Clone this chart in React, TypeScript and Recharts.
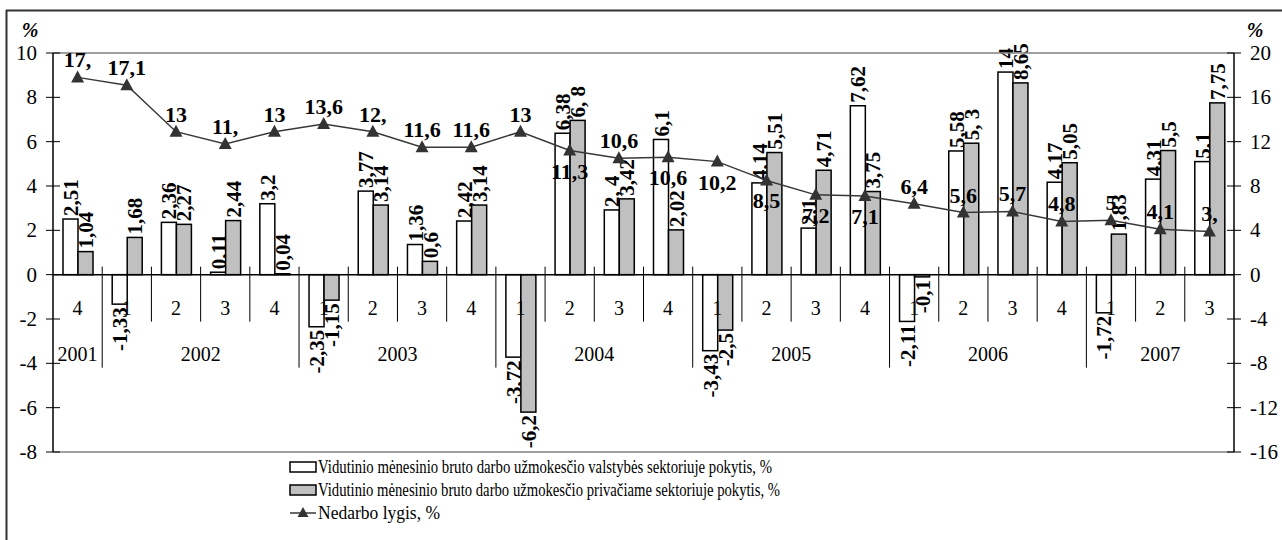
import React from 'react'
import { Bar, ComposedChart, Line, ReferenceLine, XAxis, YAxis } from 'recharts'

// quarters, "year-quarter"
const categories = [
  '2001-4',
  '2002-1', '2002-2', '2002-3', '2002-4',
  '2003-1', '2003-2', '2003-3', '2003-4',
  '2004-1', '2004-2', '2004-3', '2004-4',
  '2005-1', '2005-2', '2005-3', '2005-4',
  '2006-1', '2006-2', '2006-3', '2006-4',
  '2007-1', '2007-2', '2007-3',
]

const publicVals = [2.51, -1.33, 2.36, 0.11, 3.2, -2.35, 3.77, 1.36, 2.42, -3.72, 6.38, 2.92, 6.1, -3.43, 4.14, 2.1, 7.62, -2.11, 5.58, 9.14, 4.17, -1.72, 4.31, 5.1]
const publicLabels = ['2,51', '-1,33', '2,36', '0,11', '3,2', '-2,35', '3,77', '1,36', '2,42', '-3,72', '6,38', '2, 4', '6,1', '-3,43', '4,14', '2,1', '7,62', '-2,11', '5,58', '14', '4,17', '-1,72', '4,31', '5,1']

const privateVals = [1.04, 1.68, 2.27, 2.44, 0.04, -1.15, 3.14, 0.6, 3.14, -6.2, 6.96, 3.42, 2.02, -2.5, 5.51, 4.71, 3.75, -0.1, 5.93, 8.65, 5.05, 1.83, 5.6, 7.75]
const privateLabels = ['1,04', '1,68', '2,27', '2,44', '0,04', '-1,15', '3,14', '0,6', '3,14', '-6,2', '6, 8', '3,42', '2,02', '-2,5', '5,51', '4,71', '3,75', '-0,1', '5, 3', '8,65', '5,05', '1,83', '5,5', '7,75']

const unemploymentVals = [17.8, 17.1, 12.9, 11.8, 12.9, 13.6, 12.9, 11.5, 11.5, 12.9, 11.2, 10.5, 10.6, 10.2, 8.5, 7.2, 7.1, 6.4, 5.6, 5.7, 4.8, 4.9, 4.1, 3.9]
const unemploymentLabels = ['17,', '17,1', '13', '11,', '13', '13,6', '12,', '11,6', '11,6', '13', '11,3', '10,6', '10,6', '10,2', '8,5', '7,2', '7,1', '6,4', '5,6', '5,7', '4,8', '5', '4,1', '3,']
// labels drawn under the marker instead of above
const labelsBelow = ['2004-2', '2004-4', '2005-1', '2005-2', '2005-3', '2005-4']

const leftTicks = [-8, -6, -4, -2, 0, 2, 4, 6, 8, 10]
const rightTicks = [-16, -12, -8, -4, 0, 4, 8, 12, 16, 20]

const legendNames = [
  'Vidutinio mėnesinio bruto darbo užmokesčio valstybės sektoriuje pokytis, %',
  'Vidutinio mėnesinio bruto darbo užmokesčio privačiame sektoriuje pokytis, %',
  'Nedarbo lygis, %',
]

const data = categories.map((period, i) => ({
  period,
  pub: publicVals[i],
  priv: privateVals[i],
  unemp: unemploymentVals[i],
}))

const W = 1282
const H = 540
const LEFT_W = 53
const RIGHT_W = 48
const X_AXIS_H = 30
const PLOT_TOP = 53
const PLOT_BOTTOM = 452
const PLOT_LEFT = LEFT_W
const PLOT_RIGHT = W - RIGHT_W
const BAND = (PLOT_RIGHT - PLOT_LEFT) / categories.length
const Y_ZERO = PLOT_TOP + (PLOT_BOTTOM - PLOT_TOP) * (leftTicks[leftTicks.length - 1] / (leftTicks[leftTicks.length - 1] - leftTicks[0]))

const SERIF = '"Liberation Serif", "DejaVu Serif", serif'
const GRAY = '#c0c0c0'
const LINE = '#383838'

const serif = (size: number, bold = false): React.CSSProperties => ({
  fontFamily: SERIF,
  fontSize: size,
  fontWeight: bold ? 'bold' : 'normal',
})

function PeriodTick(props: any) {
  const { x, payload } = props
  const period = String(payload.value)
  const i = categories.indexOf(period)
  const [year, q] = period.split('-')
  const firstOfYear = i === 0 || q === '1'
  const count = categories.filter((c) => c.startsWith(year)).length
  const sepX = x - BAND / 2
  return (
    <g>
      {i > 0 && (
        <line x1={sepX} x2={sepX} y1={Y_ZERO - 8} y2={Y_ZERO + (q === '1' ? 93 : 47)} stroke="#000" strokeWidth={1} />
      )}
      <text x={x} y={Y_ZERO + 40} textAnchor="middle" style={serif(20)} fill="#000">{q}</text>
      {firstOfYear && (
        <text x={x + ((count - 1) / 2) * BAND} y={Y_ZERO + 86} textAnchor="middle" style={serif(20)} fill="#000">{year}</text>
      )}
    </g>
  )
}

function LeftTick(props: any) {
  const { y, payload } = props
  return (
    <g>
      <line x1={PLOT_LEFT - 7} x2={PLOT_LEFT + 7} y1={y} y2={y} stroke="#000" />
      <text x={PLOT_LEFT - 16} y={y + 7} textAnchor="end" style={serif(21)} fill="#000">{payload.value}</text>
    </g>
  )
}

function RightTick(props: any) {
  const { y, payload } = props
  return (
    <g>
      <line x1={PLOT_RIGHT - 7} x2={PLOT_RIGHT + 7} y1={y} y2={y} stroke="#000" />
      <text x={PLOT_RIGHT + 16} y={y + 7} textAnchor="start" style={serif(21)} fill="#000">{payload.value}</text>
    </g>
  )
}

function barShape(key: 'pub' | 'priv', fill: string, labels: string[]) {
  return (props: any) => {
    const { x, y, width, height, payload } = props
    const v = payload[key] as number
    const i = categories.indexOf(payload.period)
    const top = Math.min(y, y + height)
    const bottom = Math.max(y, y + height)
    const cx = x + width / 2
    const ty = v >= 0 ? top - 3 : bottom + 3
    return (
      <g>
        <rect x={x} y={top} width={width} height={bottom - top} fill={fill} stroke="#000" strokeWidth={1.5} />
        <text
          x={cx}
          y={ty}
          dy="0.36em"
          transform={`rotate(-90 ${cx} ${ty})`}
          textAnchor={v >= 0 ? 'start' : 'end'}
          style={serif(21, true)}
          fill="#000"
        >
          {labels[i]}
        </text>
      </g>
    )
  }
}

function TriangleDot(props: any) {
  const { cx, cy, payload } = props
  if (cx == null || cy == null) return <g />
  const i = categories.indexOf(payload.period)
  const below = labelsBelow.includes(payload.period)
  return (
    <g>
      <path d={`M${cx},${cy - 7} L${cx - 6.5},${cy + 5} L${cx + 6.5},${cy + 5} Z`} fill="#333" />
      <text x={cx} y={below ? cy + 28 : cy - 10} textAnchor="middle" style={serif(22, true)} fill="#000">
        {unemploymentLabels[i]}
      </text>
    </g>
  )
}

function Overlay() {
  const lx = 290
  const rows = [467, 490, 513]
  const lengths = [454, 462, 122]
  return (
    <svg width={W} height={H} style={{ position: 'absolute', left: 0, top: 0, pointerEvents: 'none' }}>
      <line x1={6.5} x2={6.5} y1={10} y2={H} stroke="#333" strokeWidth={2} />
      <line x1={6} x2={W} y1={10.5} y2={10.5} stroke="#333" strokeWidth={2} />
      <text x={30} y={37} textAnchor="middle" style={{ ...serif(20, true), fontStyle: 'italic' }}>%</text>
      <text x={1255} y={37} textAnchor="middle" style={{ ...serif(20, true), fontStyle: 'italic' }}>%</text>
      <rect x={lx} y={rows[0] - 5} width={26} height={10} fill="#fff" stroke="#000" strokeWidth={1.5} />
      <rect x={lx} y={rows[1] - 5} width={26} height={10} fill={GRAY} stroke="#000" strokeWidth={1.5} />
      <line x1={lx} x2={lx + 26} y1={rows[2]} y2={rows[2]} stroke={LINE} strokeWidth={1.5} />
      <path d={`M${lx + 13},${rows[2] - 6} L${lx + 7.5},${rows[2] + 4} L${lx + 18.5},${rows[2] + 4} Z`} fill="#333" />
      {legendNames.map((name, i) => (
        <text
          key={name}
          x={lx + 28}
          y={rows[i] + 6}
          style={serif(19)}
          textLength={lengths[i]}
          lengthAdjust="spacingAndGlyphs"
          fill="#000"
        >
          {name}
        </text>
      ))}
    </svg>
  )
}

export default function App() {
  return (
    <div style={{ position: 'absolute', left: 0, top: 0, width: W, height: H, background: '#fff' }}>
      <ComposedChart
        width={W}
        height={H}
        data={data}
        margin={{ top: PLOT_TOP, right: 0, bottom: H - PLOT_BOTTOM - X_AXIS_H, left: 0 }}
        barSize={15}
        barGap={0}
      >
        <XAxis dataKey="period" height={X_AXIS_H} axisLine={false} tickLine={false} interval={0} tick={<PeriodTick />} />
        <YAxis
          yAxisId="l"
          width={LEFT_W}
          domain={[leftTicks[0], leftTicks[leftTicks.length - 1]]}
          ticks={leftTicks}
          tickLine={false}
          axisLine={{ stroke: '#000', strokeWidth: 1.5 }}
          tick={<LeftTick />}
        />
        <YAxis
          yAxisId="r"
          orientation="right"
          width={RIGHT_W}
          domain={[rightTicks[0], rightTicks[rightTicks.length - 1]]}
          ticks={rightTicks}
          tickLine={false}
          axisLine={{ stroke: '#000', strokeWidth: 1.5 }}
          tick={<RightTick />}
        />
        <ReferenceLine yAxisId="l" y={leftTicks[leftTicks.length - 1]} stroke="#808080" strokeWidth={1.5} />
        <ReferenceLine yAxisId="l" y={leftTicks[0]} stroke="#808080" strokeWidth={1.5} />
        <Bar yAxisId="l" dataKey="pub" fill="#fff" isAnimationActive={false} shape={barShape('pub', '#fff', publicLabels)} />
        <Bar yAxisId="l" dataKey="priv" fill={GRAY} isAnimationActive={false} shape={barShape('priv', GRAY, privateLabels)} />
        <ReferenceLine yAxisId="l" y={0} stroke="#000" strokeWidth={1.5} />
        <Line
          yAxisId="r"
          type="linear"
          dataKey="unemp"
          stroke={LINE}
          strokeWidth={1.5}
          dot={<TriangleDot />}
          activeDot={false}
          isAnimationActive={false}
        />
      </ComposedChart>
      <Overlay />
    </div>
  )
}
